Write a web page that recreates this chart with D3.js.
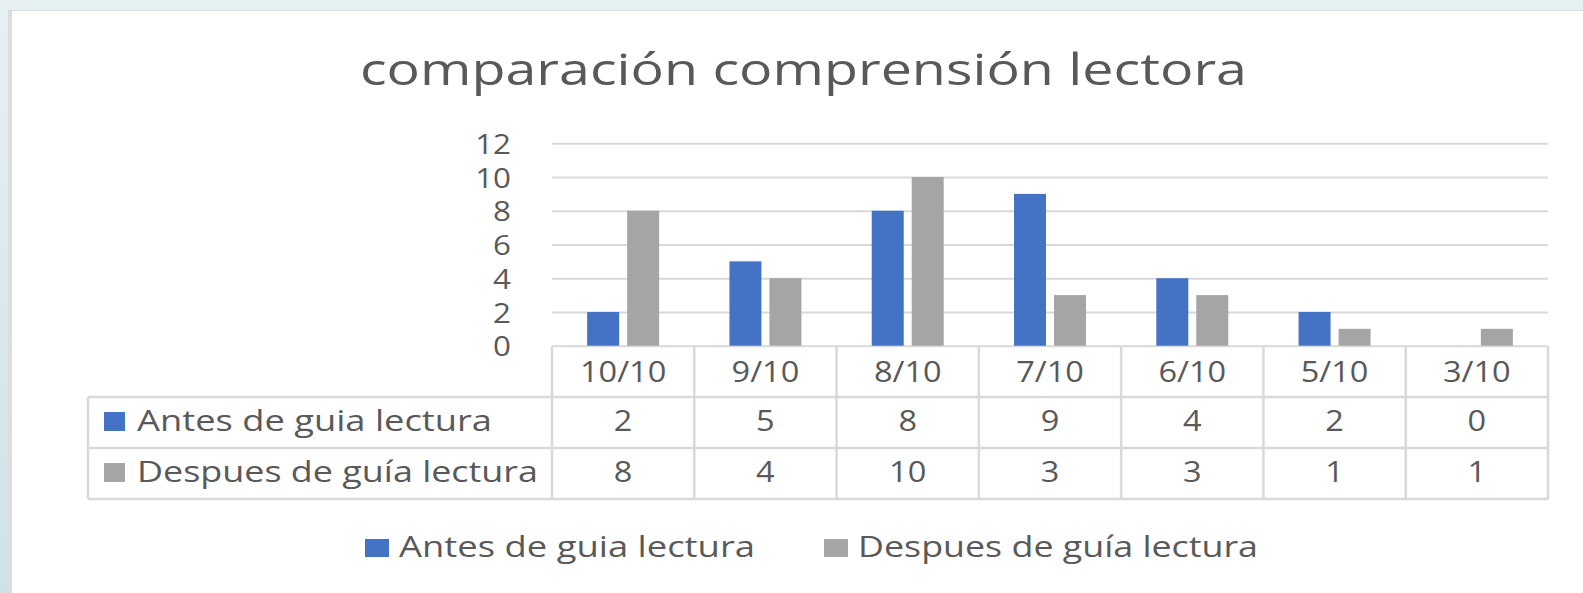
<!DOCTYPE html>
<html>
<head>
<meta charset="utf-8">
<script src="https://cdn.jsdelivr.net/npm/d3@7"></script>
<style>
	html, body { margin: 0; padding: 0; background: #e4eef1; }
	svg { display: block; font-family: "Open Sans", sans-serif; }
</style>
</head>
<body>
<svg class="chart"></svg>
<script>
// data
var categories = ["10/10", "9/10", "8/10", "7/10", "6/10", "5/10", "3/10"];
var antes = [2, 5, 8, 9, 4, 2, 0];
var despues = [8, 4, 10, 3, 3, 1, 1];
var seriesNames = ["Antes de guia lectura", "Despues de guía lectura"];
var seriesColors = ["#4472c4", "#a5a5a5"];
var yTicks = [0, 2, 4, 6, 8, 10, 12];
var titleText = "comparación comprensión lectora";

var W = 1583, H = 593;
var textColor = "#595959";
var lineColor = "#d9d9d9";
var stretch = 1.12; // the screenshot is a bit wider than tall

// plot area (don't call these top/left, window.top is taken)
var plotLeft = 552, plotRight = 1548, plotTop = 143.3, plotBottom = 345.7;
var tableLeft = 88;
var rowEdges = [346, 397, 448, 499];

var svg = d3.select(".chart")
	.attr("width", W)
	.attr("height", H);

//background strip and white panel
var defs = svg.append("defs");
var grad = defs.append("linearGradient")
	.attr("id", "bg")
	.attr("x1", 0).attr("y1", 0).attr("x2", 0).attr("y2", 1);
grad.append("stop").attr("offset", "0%").attr("stop-color", "#e6f0f3");
grad.append("stop").attr("offset", "100%").attr("stop-color", "#cfe1e7");

svg.append("rect")
	.attr("width", W).attr("height", H)
	.attr("fill", "url(#bg)");
svg.append("rect")
	.attr("x", 8).attr("y", 10)
	.attr("width", W - 8).attr("height", H - 10)
	.attr("fill", "#dcdcdc");
svg.append("rect")
	.attr("x", 12).attr("y", 11)
	.attr("width", W - 12).attr("height", H - 11)
	.attr("fill", "#ffffff");

//scales
var x = d3.scaleBand()
	.domain(categories)
	.range([plotLeft, plotRight])
	.padding(0);

var x1 = d3.scaleBand()
	.domain([0, 1])
	.range([0, x.bandwidth()])
	.paddingInner(0.2)
	.paddingOuter(0.879);

var y = d3.scaleLinear()
	.domain([0, 12])
	.range([plotBottom, plotTop]);

//gridlines
var grid = svg.append("g")
	.attr("transform", "translate(" + plotLeft + ",0)")
	.call(d3.axisLeft(y).tickValues(yTicks).tickSize(-(plotRight - plotLeft)).tickFormat(""));
grid.select(".domain").remove();
grid.selectAll("line")
	.attr("stroke", lineColor)
	.attr("stroke-width", 2);

//y axis labels
var yAxis = svg.append("g")
	.attr("transform", "translate(" + plotLeft + ",0)")
	.call(d3.axisLeft(y).tickValues(yTicks).tickSize(0).tickPadding(41));
yAxis.select(".domain").remove();
yAxis.selectAll("text")
	.attr("class", "num")
	.attr("fill", textColor)
	.attr("font-family", "Open Sans")
	.attr("font-size", 28)
	.attr("dy", "0.36em");

//bars
var series = [antes, despues];
series.forEach(function(vals, s){
	svg.append("g")
		.selectAll("rect")
		.data(vals)
		.enter()
		.append("rect")
		.attr("x", function(d, i){ return x(categories[i]) + x1(s); })
		.attr("y", function(d){ return y(d); })
		.attr("width", x1.bandwidth())
		.attr("height", function(d){ return y(0) - y(d); })
		.attr("fill", seriesColors[s]);
});

//data table lines
var table = svg.append("g")
	.attr("stroke", lineColor)
	.attr("stroke-width", 2.5);

rowEdges.slice(1).forEach(function(ry){
	table.append("line")
		.attr("x1", tableLeft).attr("x2", plotRight)
		.attr("y1", ry).attr("y2", ry);
});
table.append("line")
	.attr("x1", tableLeft).attr("x2", tableLeft)
	.attr("y1", rowEdges[1]).attr("y2", rowEdges[3]);
categories.concat([null]).forEach(function(c){
	var cx = c === null ? plotRight : x(c);
	table.append("line")
		.attr("x1", cx).attr("x2", cx)
		.attr("y1", rowEdges[0]).attr("y2", rowEdges[3]);
});

//header row = category axis
var xAxis = svg.append("g")
	.attr("transform", "translate(0," + rowEdges[0] + ")")
	.call(d3.axisBottom(x).tickSize(0));
xAxis.select(".domain").remove();
xAxis.selectAll("text")
	.attr("class", "num")
	.attr("fill", textColor)
	.attr("font-family", "Open Sans")
	.attr("font-size", 29)
	.attr("y", 36)
	.attr("dy", 0);

//series rows of the table
var rowBase = [431, 482];
series.forEach(function(vals, s){
	var row = svg.append("g");
	row.append("rect")
		.attr("x", 104).attr("y", rowBase[s] - 19)
		.attr("width", 21).attr("height", 19)
		.attr("fill", seriesColors[s]);
	row.append("text")
		.attr("class", "lbl")
		.attr("x", 137).attr("y", rowBase[s])
		.attr("fill", textColor)
		.attr("font-size", 29)
		.attr("data-w", s === 0 ? 355 : 401)
		.text(seriesNames[s]);
	row.selectAll(".val")
		.data(vals)
		.enter()
		.append("text")
		.attr("class", "val num")
		.attr("x", function(d, i){ return x(categories[i]) + x.bandwidth() / 2; })
		.attr("y", rowBase[s])
		.attr("text-anchor", "middle")
		.attr("fill", textColor)
		.attr("font-size", 29)
		.text(function(d){ return d; });
});

//title
svg.append("text")
	.attr("class", "lbl")
	.attr("x", 360).attr("y", 85)
	.attr("fill", textColor)
	.attr("font-size", 43)
	.attr("data-w", 887)
	.text(titleText);

//legend at the bottom
var legendX = [365, 824];
var legendW = [356, 400];
seriesNames.forEach(function(name, s){
	svg.append("rect")
		.attr("x", legendX[s]).attr("y", 539)
		.attr("width", 24).attr("height", 18)
		.attr("fill", seriesColors[s]);
	svg.append("text")
		.attr("class", "lbl")
		.attr("x", legendX[s] + 34).attr("y", 557)
		.attr("fill", textColor)
		.attr("font-size", 29)
		.attr("data-w", legendW[s])
		.text(name);
});

//fit the measured widths of the long texts
svg.selectAll(".lbl").each(function(){
	var el = d3.select(this);
	el.attr("textLength", el.attr("data-w"))
		.attr("lengthAdjust", "spacingAndGlyphs");
});
//and widen the numbers by the same amount
svg.selectAll(".num").each(function(){
	var w = this.getComputedTextLength();
	d3.select(this)
		.attr("textLength", w * stretch)
		.attr("lengthAdjust", "spacingAndGlyphs");
});
</script>
</body>
</html>
